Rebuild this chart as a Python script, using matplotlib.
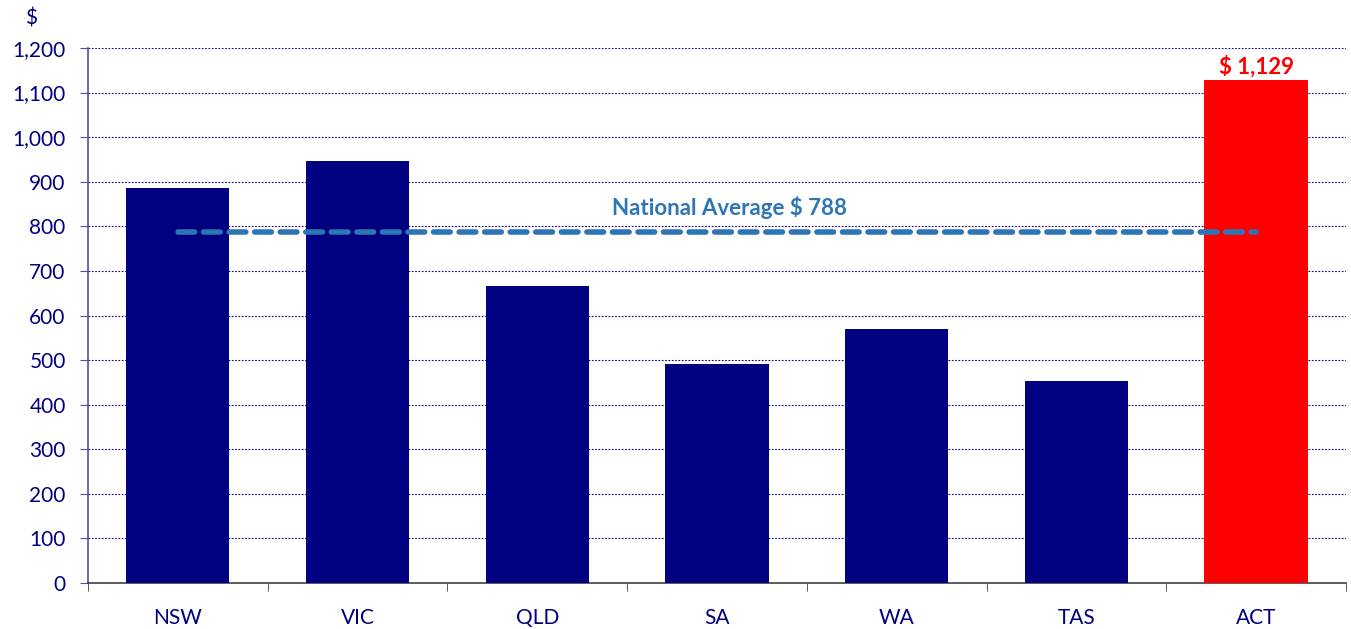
import matplotlib.pyplot as plt
import numpy as np

plt.rcParams['font.family'] = ['Lato', 'DejaVu Sans']

# data
states = ['NSW', 'VIC', 'QLD', 'SA', 'WA', 'TAS', 'ACT']
cost = [886, 947, 667, 492, 569, 453, 1129]
national_avg = 788
highlight = 'ACT'

navy = '#000080'
fig = plt.figure(figsize=(13.51, 6.29), dpi=100)
ax = fig.add_axes([0.0651, 0.0731, 0.9312, 0.8506])

x = np.arange(len(states))
colors = ['#ff0000' if s == highlight else navy for s in states]
ax.bar(x, cost, width=0.575, color=colors, zorder=3)

# national average line
ax.plot([x[0], x[-1]], [national_avg, national_avg], color='#2e75b6', lw=4,
        dashes=(3, 1.6), solid_capstyle='round', dash_capstyle='round', zorder=4)
ax.text((x[0] + x[-1]) / 2 + 0.07, national_avg + 28, 'National Average $ %d' % national_avg,
        color='#2e75b6', fontsize=16, fontweight='bold', ha='center', va='bottom')

i = states.index(highlight)
ax.text(x[i], cost[i] + 5, '$ {:,}'.format(cost[i]), color='#ff0000',
        fontsize=16, fontweight='bold', ha='center', va='bottom')

ax.set_xlim(-0.5, len(states) - 0.5)
ax.set_ylim(0, 1200)
ax.set_yticks(range(0, 1201, 100))
ax.set_yticklabels(['{:,}'.format(v) for v in range(0, 1201, 100)])
ax.yaxis.grid(True, color=navy, linestyle=(0, (1.5, 1.5)), linewidth=0.8, zorder=0)

ax.set_xticks(x)
ax.set_xticklabels(states)
ax.set_xticks(np.arange(-0.5, len(states)), minor=True)
ax.tick_params(axis='x', which='major', length=0, pad=18, labelsize=15, labelcolor=navy)
ax.tick_params(axis='x', which='minor', length=6, direction='out', color='#404040')
ax.tick_params(axis='y', length=6, direction='out', color='#5050a8', labelsize=15,
               labelcolor=navy, pad=10)

for side in ['top', 'right']:
    ax.spines[side].set_visible(False)
ax.spines['left'].set_color('#5050a8')
ax.spines['left'].set_linewidth(1.2)
ax.spines['bottom'].set_color('#404040')
ax.spines['bottom'].set_linewidth(1.2)

fig.text(0.0185, 0.955, '$', color=navy, fontsize=15, ha='left', va='bottom')

fig.savefig('out.png', dpi=100)
